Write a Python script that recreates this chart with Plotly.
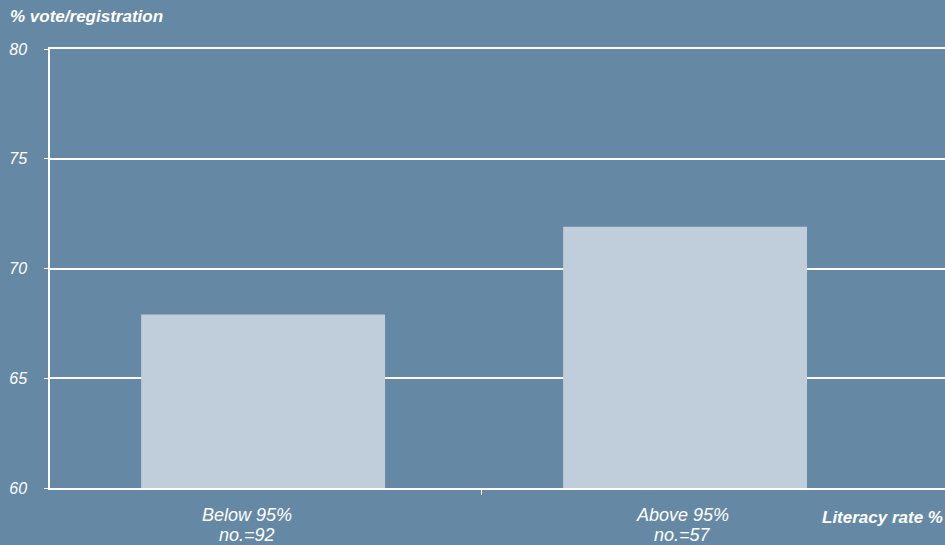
import plotly.graph_objects as go

cat_line1 = ["Below 95%", "Above 95%"]
cat_line2 = ["no.=92", "no.=57"]
positions = [0, 1]
values = [67.9, 71.9]
y_ticks = [60, 65, 70, 75, 80]
label_shift = [-16, -3]

BG = "#6589A5"
BAR = "#C0CDDA"
FONT = "Liberation Sans, Arial, sans-serif"

fig = go.Figure(go.Bar(
    x=positions, y=values, width=0.578,
    marker=dict(color=BAR, line=dict(width=0)),
    hoverinfo="skip",
))

fig.update_layout(
    width=945, height=545, autosize=False,
    margin=dict(l=50, r=0, t=49, b=57),
    paper_bgcolor=BG, plot_bgcolor=BG,
    showlegend=False,
    font=dict(family=FONT, color="white", size=16),
    title=dict(text="<b><i>% vote/registration</i></b>", x=10/945, xanchor="left",
               y=1 - 16/545, yanchor="middle", font=dict(size=17, color="white")),
)

fig.update_xaxes(
    range=[-0.505, 1.616], tickmode="array", tickvals=positions,
    ticktext=["" for _ in positions],
    ticks="", showgrid=False, zeroline=False, automargin=False,
    showline=True, linecolor="white", linewidth=1.5, mirror=True,
    minor=dict(tickmode="array", tickvals=[0.517], ticks="outside", ticklen=5,
               tickcolor="white", tickwidth=1, showgrid=False),
)

fig.update_yaxes(
    range=[60, 80], tickmode="array", tickvals=y_ticks,
    ticktext=["<i>%d</i>" % v for v in y_ticks],
    ticks="outside", ticklen=4, tickcolor="white", tickwidth=1,
    showgrid=True, gridcolor="white", gridwidth=1.5, automargin=False,
    zeroline=False, showline=True, linecolor="white", linewidth=1.5,
    tickfont=dict(size=16, color="white"),
    ticklabelstandoff=14,
)

for xp, t1, t2, sh in zip(positions, cat_line1, cat_line2, label_shift):
    fig.add_annotation(
        text="<i>%s</i>" % t1, xref="x", yref="paper",
        x=xp, y=-26.5/439, xanchor="center", yanchor="middle", showarrow=False,
        xshift=sh, font=dict(size=18, color="white"),
    )
    fig.add_annotation(
        text="<i>%s</i>" % t2, xref="x", yref="paper",
        x=xp, y=-47/439, xanchor="center", yanchor="middle", showarrow=False,
        xshift=sh, font=dict(size=18, color="white"),
    )

fig.add_annotation(
    text="<b><i>Literacy rate %</i></b>", xref="paper", yref="paper",
    x=1, y=-29/439, xanchor="right", yanchor="middle", showarrow=False,
    font=dict(size=17, color="white"),
)

fig.write_html("out.html")
